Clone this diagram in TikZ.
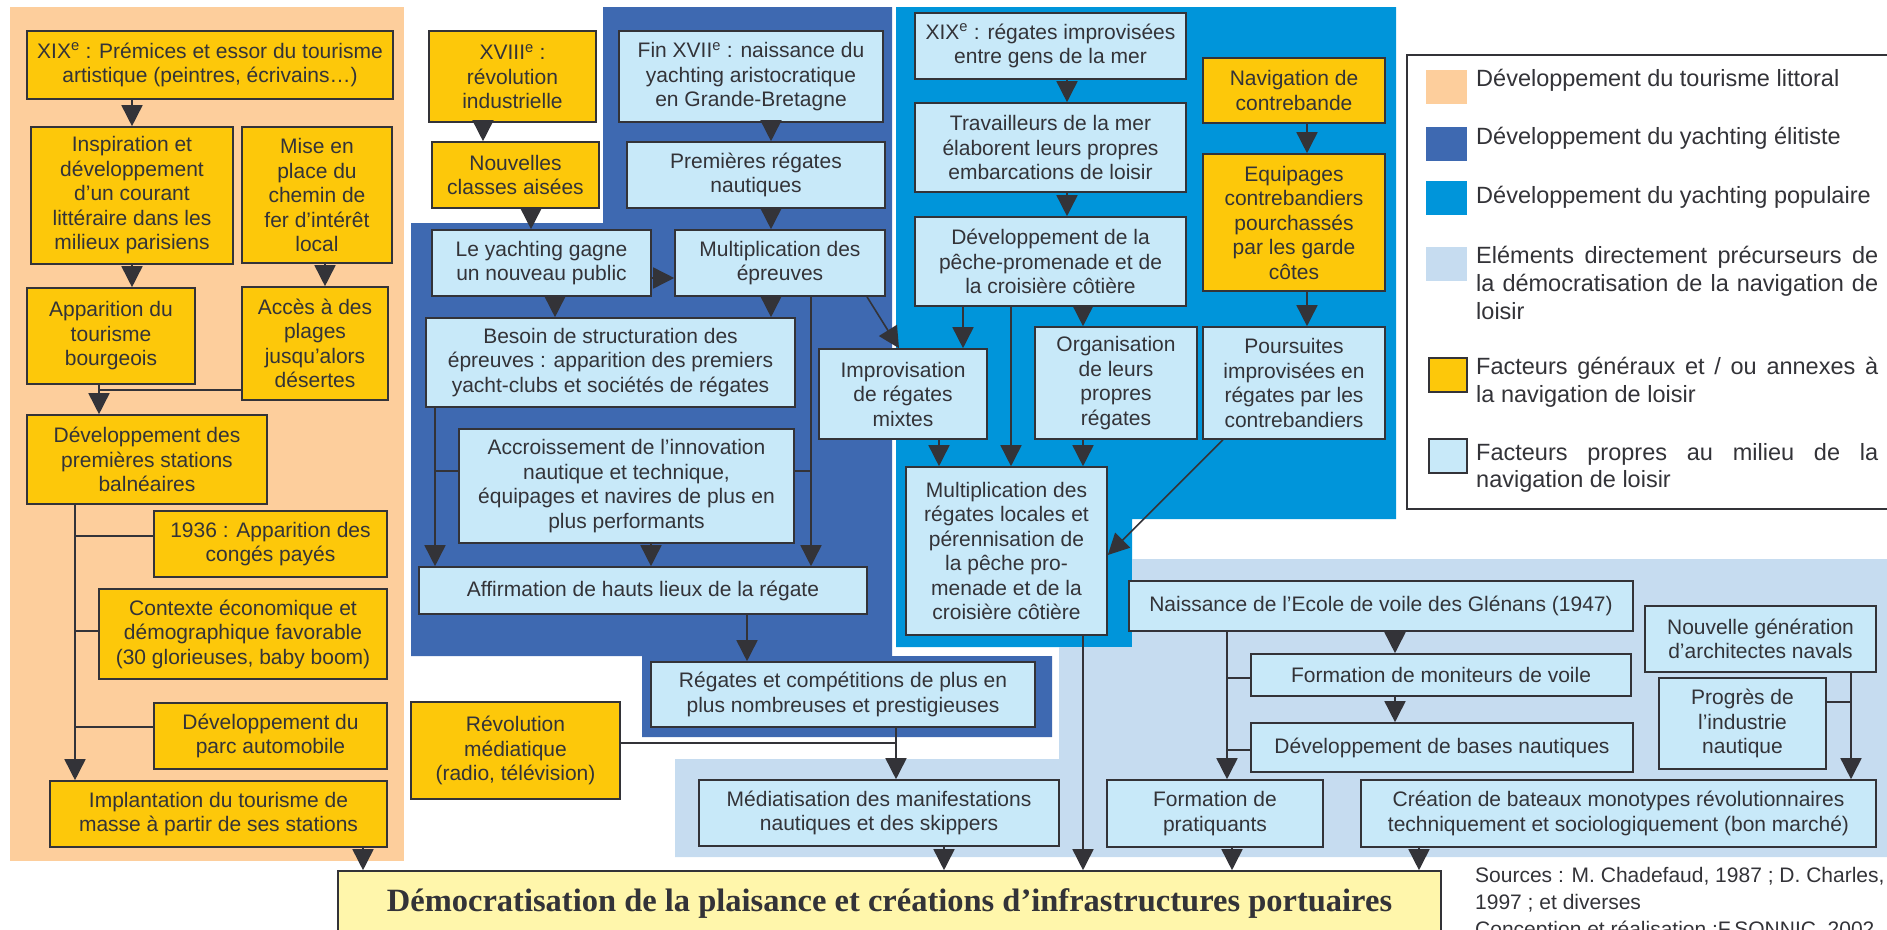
\documentclass[tikz,border=0pt]{standalone}
\usepackage{fontspec}
\setmainfont{Liberation Sans}
\newfontfamily\titlefont{Liberation Serif}
\usetikzlibrary{arrows.meta}
\definecolor{peach}{HTML}{FDCE9C}
\definecolor{elite}{HTML}{3E69B1}
\definecolor{popu}{HTML}{0095DA}
\definecolor{precur}{HTML}{C6DCF0}
\definecolor{ybox}{HTML}{FDC80A}
\definecolor{lbox}{HTML}{C8E9F9}
\definecolor{finalbg}{HTML}{FFF6AB}
\definecolor{lc}{HTML}{333338}
\newcommand{\mkbox}[7][own]{%
    \node[#1, minimum width={(#5-#3)*1pt}, minimum height={(#6-#4)*1pt}] (#2) at ({(#3+#5)/2},{(#4+#6)/2}) {#7};}
\newcommand{\lgline}[1]{\makebox[402pt][s]{#1}}
\tikzset{
    bx/.style={draw=lc, line width=1.6pt, align=center, inner sep=0pt, text=lc, font=\fontsize{21}{24.5}\selectfont},
    gen/.style={bx, fill=ybox},
    own/.style={bx, fill=lbox},
    final/.style={bx, fill=finalbg, font=\titlefont\fontsize{32.5}{36}\selectfont\bfseries},
    arr/.style={draw=lc, line width=1.6pt, -{Triangle[length=21pt,width=21pt]}},
    ln/.style={draw=lc, line width=1.6pt},
    lgtext/.style={anchor=west, align=left, inner sep=0pt, text=lc, font=\fontsize{23.5}{27.7}\selectfont},
}

\begin{document}
\begin{tikzpicture}[x=1pt, y=-1pt]
        \useasboundingbox (0,0) rectangle (1887,929);
        \fill[peach] (10,7) rectangle (404,861);
        \fill[elite] (603,7) -- (892,7) -- (892,656) -- (1052,656) -- (1052,737) -- (642,737) -- (642,656) -- (411,656) -- (411,223) -- (603,223) -- cycle;
        \fill[popu] (896,7) -- (1396,7) -- (1396,519) -- (1132,519) -- (1132,647) -- (896,647) -- cycle;
        \fill[precur] (1132,559) -- (1887,559) -- (1887,857) -- (675,857) -- (675,759) -- (1059,759) -- (1059,647) -- (1132,647) -- cycle;

        \mkbox[gen]{xix}{27}{31}{393}{99}{XIX\textsuperscript{e} : Prémices et essor du tourisme\\artistique (peintres, écrivains…)}
        \mkbox[gen]{inspi}{31}{127}{233}{264}{Inspiration et\\développement\\d’un courant\\littéraire dans les\\milieux parisiens}
        \mkbox[gen]{chemin}{242}{127}{392}{263}{Mise en\\place du\\chemin de\\fer d’intérêt\\local}
        \mkbox[gen]{appar}{27}{288}{195}{384}{Apparition du\\tourisme\\bourgeois}
        \mkbox[gen]{acces}{242}{287}{388}{400}{Accès à des\\plages\\jusqu’alors\\désertes}
        \mkbox[gen]{stations}{27}{415}{267}{504}{Développement des\\premières stations\\balnéaires}
        \mkbox[gen]{conges}{154}{511}{387}{577}{1936 : Apparition des\\congés payés}
        \mkbox[gen]{contexte}{99}{589}{387}{679}{Contexte économique et\\démographique favorable\\(30 glorieuses, baby boom)}
        \mkbox[gen]{parc}{154}{703}{387}{769}{Développement du\\parc automobile}
        \mkbox[gen]{implant}{50}{781}{387}{847}{Implantation du tourisme de\\masse à partir de ses stations}

        \mkbox[gen]{xviii}{429}{31}{596}{122}{XVIII\textsuperscript{e} :\\révolution\\industrielle}
        \mkbox[gen]{classes}{432}{142}{599}{208}{Nouvelles\\classes aisées}
        \mkbox{finxvii}{619}{31}{883}{122}{Fin XVII\textsuperscript{e} : naissance du\\yachting aristocratique\\en Grande-Bretagne}
        \mkbox{premieres}{627}{142}{885}{208}{Premières régates\\nautiques}
        \mkbox{public}{432}{230}{651}{296}{Le yachting gagne\\un nouveau public}
        \mkbox{epreuves}{675}{230}{885}{296}{Multiplication des\\épreuves}
        \mkbox{besoin}{426}{318}{795}{407}{Besoin de structuration des\\épreuves : apparition des premiers\\yacht-clubs et sociétés de régates}
        \mkbox{innov}{459}{429}{794}{543}{Accroissement de l’innovation\\nautique et technique,\\équipages et navires de plus en\\plus performants}
        \mkbox{hauts}{419}{567}{867}{614}{Affirmation de hauts lieux de la régate}
        \mkbox{prestige}{651}{662}{1035}{727}{Régates et compétitions de plus en\\plus nombreuses et prestigieuses}
        \mkbox[gen]{medias}{411}{702}{620}{799}{Révolution\\médiatique\\(radio, télévision)}
        \mkbox{mediat}{699}{780}{1059}{846}{Médiatisation des manifestations\\nautiques et des skippers}

        \mkbox{gensmer}{915}{13}{1186}{79}{XIX\textsuperscript{e} : régates improvisées\\entre gens de la mer}
        \mkbox{travail}{915}{103}{1186}{192}{Travailleurs de la mer\\élaborent leurs propres\\embarcations de loisir}
        \mkbox{peche}{915}{217}{1186}{306}{Développement de la\\pêche-promenade et de\\la croisière côtière}
        \mkbox[gen]{contreb}{1203}{58}{1385}{123}{Navigation de\\contrebande}
        \mkbox[gen]{equip}{1203}{154}{1385}{291}{Equipages\\contrebandiers\\pourchassés\\par les garde\\côtes}
        \mkbox{poursuites}{1203}{327}{1385}{439}{Poursuites\\improvisées en\\régates par les\\contrebandiers}
        \mkbox{organis}{1035}{327}{1197}{439}{Organisation\\de leurs\\propres\\régates}
        \mkbox{mixtes}{819}{349}{987}{439}{Improvisation\\de régates\\mixtes}
        \mkbox{locales}{906}{467}{1107}{635}{Multiplication des\\régates locales et\\pérennisation de\\la pêche pro-\\menade et de la\\croisière côtière}

        \mkbox{glenans}{1129}{581}{1633}{631}{Naissance de l’Ecole de voile des Glénans (1947)}
        \mkbox{moniteurs}{1251}{654}{1631}{696}{Formation de moniteurs de voile}
        \mkbox{bases}{1251}{723}{1633}{772}{Développement de bases nautiques}
        \mkbox{pratiq}{1107}{780}{1323}{847}{Formation de\\pratiquants}
        \mkbox{monotypes}{1361}{780}{1876}{847}{Création de bateaux monotypes révolutionnaires\\techniquement et sociologiquement (bon marché)}
        \mkbox{archi}{1645}{606}{1876}{672}{Nouvelle génération\\d’architectes navals}
        \mkbox{industrie}{1659}{678}{1826}{769}{Progrès de\\l’industrie\\nautique}

        \mkbox[final]{demo}{338}{871}{1441}{937}{Démocratisation de la plaisance et créations d’infrastructures portuaires}

        \coordinate (jA) at (99,390);
        \coordinate (jB) at (75,504);
        \coordinate (jC) at (435,471);
        \coordinate (jD) at (811,471);
        \coordinate (jE) at (896,743);
        \coordinate (jF) at (1227,631);
        \coordinate (jG) at (1851,702);

        \draw[arr] (inspi.north |- xix.south) -- (inspi.north);
        \draw[arr] (inspi.south) -- (inspi.south |- appar.north);
        \draw[arr] (chemin.south -| 325,0) -- (acces.north -| 325,0);
        \draw[arr] (appar.south -| jA) -- (stations.north -| jA);
        \draw[ln] (acces.west |- jA) -- (jA);
        \draw[arr] (stations.south -| jB) -- (implant.north -| jB);
        \draw[ln] (conges.west |- 0,536) -- (jB |- 0,536);
        \draw[ln] (contexte.west |- 0,631) -- (jB |- 0,631);
        \draw[ln] (parc.west |- 0,727) -- (jB |- 0,727);
        \draw[arr] (implant.south -| 363,0) -- (demo.north -| 363,0);

        \draw[arr] (xviii.south -| 483,0) -- (classes.north -| 483,0);
        \draw[arr] (classes.south -| 531,0) -- (public.north -| 531,0);
        \draw[arr] (finxvii.south -| 771,0) -- (premieres.north -| 771,0);
        \draw[arr] (premieres.south -| 771,0) -- (epreuves.north -| 771,0);
        \draw[arr] (public.east |- 0,278) -- (epreuves.west |- 0,278);
        \draw[arr] (public.south -| 555,0) -- (besoin.north -| 555,0);
        \draw[arr] (epreuves.south -| 771,0) -- (besoin.north -| 771,0);
        \draw[arr] (besoin.south -| jC) -- (hauts.north -| jC);
        \draw[arr] (epreuves.south -| jD) -- (hauts.north -| jD);
        \draw[ln] (innov.west |- jC) -- (jC);
        \draw[ln] (innov.east |- jD) -- (jD);
        \draw[arr] (innov.south -| 651,0) -- (hauts.north -| 651,0);
        \draw[arr] (epreuves.south -| 867,0) -- (mixtes.north -| 899,0);
        \draw[arr] (hauts.south -| 747,0) -- (prestige.north -| 747,0);
        \draw[arr] (prestige.south -| jE) -- (mediat.north -| jE);
        \draw[ln] (medias.east |- jE) -- (jE);
        \draw[arr] (mediat.south -| 944,0) -- (demo.north -| 944,0);

        \draw[arr] (gensmer.south -| 1067,0) -- (travail.north -| 1067,0);
        \draw[arr] (travail.south -| 1067,0) -- (peche.north -| 1067,0);
        \draw[arr] (peche.south -| 963,0) -- (mixtes.north -| 963,0);
        \draw[arr] (peche.south -| 1011,0) -- (locales.north -| 1011,0);
        \draw[arr] (peche.south -| 1083,0) -- (organis.north -| 1083,0);
        \draw[arr] (contreb.south -| 1307,0) -- (equip.north -| 1307,0);
        \draw[arr] (equip.south -| 1307,0) -- (poursuites.north -| 1307,0);
        \draw[arr] (mixtes.south -| 939,0) -- (locales.north -| 939,0);
        \draw[arr] (organis.south -| 1083,0) -- (locales.north -| 1083,0);
        \draw[arr] (poursuites.south -| 1223,0) -- (locales.east |- 0,555);
        \draw[arr] (locales.south -| 1083,0) -- (demo.north -| 1083,0);

        \draw[arr] (glenans.south -| 1395,0) -- (moniteurs.north -| 1395,0);
        \draw[arr] (moniteurs.south -| 1395,0) -- (bases.north -| 1395,0);
        \draw[arr] (glenans.south -| jF) -- (pratiq.north -| jF);
        \draw[ln] (moniteurs.west |- 0,678) -- (jF |- 0,678);
        \draw[ln] (bases.west |- 0,750) -- (jF |- 0,750);
        \draw[arr] (pratiq.south -| 1232,0) -- (demo.north -| 1232,0);
        \draw[arr] (monotypes.south -| 1419,0) -- (demo.north -| 1419,0);
        \draw[arr] (archi.south -| jG) -- (monotypes.north -| jG);
        \draw[ln] (industrie.east |- jG) -- (jG);

        \draw[ln, fill=white] (1407,55) rectangle (1895,509);
        \fill[peach] (1426,70) rectangle (1467,104);
        \fill[elite] (1426,127) rectangle (1467,161);
        \fill[popu] (1426,181) rectangle (1467,215);
        \fill[precur] (1426,247) rectangle (1467,281);
        \draw[ln, fill=ybox] (1429,358) rectangle (1467,392);
        \draw[ln, fill=lbox] (1429,439) rectangle (1467,473);
        \node[lgtext] (lg1) at (1476,80) {Développement du tourisme littoral};
        \node[lgtext] (lg2) at (1476,138) {Développement du yachting élitiste};
        \node[lgtext] (lg3) at (1476,197) {Développement du yachting populaire};
        \node[lgtext] (lg4) at (1476,283) {\lgline{Eléments directement précurseurs de}\\\lgline{la démocratisation de la navigation de}\\loisir};
        \node[lgtext] (lg5) at (1476,382) {\lgline{Facteurs généraux et / ou annexes à}\\la navigation de loisir};
        \node[lgtext] (lg6) at (1476,468) {\lgline{Facteurs propres au milieu de la}\\navigation de loisir};

        \node[anchor=north west, align=left, inner sep=0pt, text=lc, font=\fontsize{21}{27}\selectfont] (src) at (1475,867) {Sources : M. Chadefaud, 1987 ; D. Charles,\\1997 ; et diverses\\Conception et réalisation :F.SONNIC, 2002};
    \end{tikzpicture}
\end{document}
